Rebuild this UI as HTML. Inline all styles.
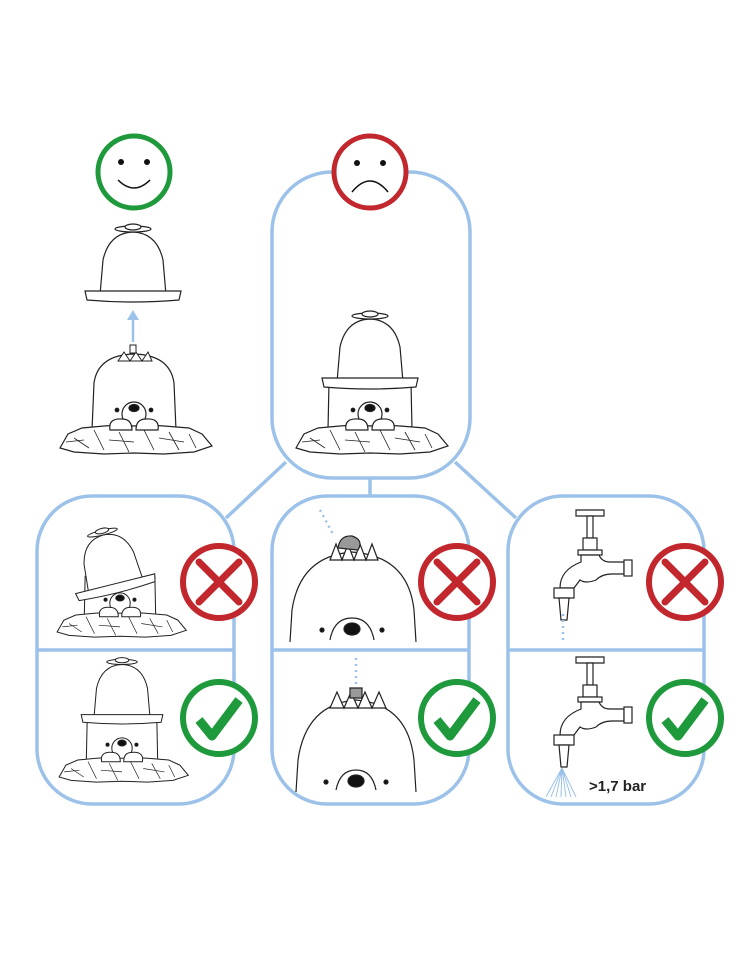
<!DOCTYPE html>
<html><head><meta charset="utf-8"><style>
html,body{margin:0;padding:0;background:#fff;width:743px;height:960px;overflow:hidden}
</style></head><body>
<svg width="743" height="960" viewBox="0 0 743 960" xmlns="http://www.w3.org/2000/svg">
<defs>
<g id="rocksface" fill="#fff" stroke="#222" stroke-width="1.2">
  <path d="M-74,20 L-66,6 L-52,0 L-30,-2 L0,-4 L30,-2 L55,0 L68,6 L78,18 L60,24 L30,26 L0,25 L-30,26 L-60,24 Z"/>
  <path d="M-60,10 L-45,20 M-40,2 L-30,22 M-15,4 L-5,24 M10,2 L20,22 M35,4 L45,22 M55,6 L62,20 M-68,14 L-50,12 M-25,12 L0,14 M25,10 L50,14" fill="none" stroke-width="0.8"/>
  <circle cx="0" cy="-14" r="12"/>
  <ellipse cx="0" cy="-20" rx="5" ry="3.5" fill="#111"/>
  <circle cx="-17" cy="-18" r="1.8" fill="#111"/>
  <circle cx="17" cy="-18" r="1.8" fill="#111"/>
  <path d="M-24,2 Q-26,-10 -12,-9 Q-2,-9 -2,2 Z"/>
  <path d="M2,2 Q2,-9 12,-9 Q26,-10 24,2 Z"/>
</g>
<g id="mole">
  <path d="M-42,2 L-40,-45 Q-36,-73 0,-74 Q36,-73 40,-45 L42,2 Z" fill="#fff" stroke="#222" stroke-width="1.2"/>
  <use href="#rocksface"/>
</g>
<g id="molelow">
  <path d="M-41,-46 L-42,2 L42,2 L41,-46" fill="#fff" stroke="#222" stroke-width="1.2"/>
  <use href="#rocksface"/>
</g>
<g id="cap" fill="#fff" stroke="#222" stroke-width="1.2">
  <path d="M-33,0 L-30,-35 Q-24,-62 0,-63 Q24,-62 30,-35 L33,0 Z"/>
  <path d="M-48,-4 L48,-4 L46,5 Q0,9 -46,5 Z"/>
  <ellipse cx="0" cy="-66" rx="18" ry="3"/>
  <ellipse cx="0" cy="-68" rx="8" ry="3"/>
</g>
<g id="tap" fill="#fff" stroke="#222" stroke-width="1.2">
  <path d="M-14,0 L14,0 L14,6 L-14,6 Z"/>
  <path d="M-3,6 L3,6 L3,28 L-3,28 Z"/>
  <rect x="-7" y="28" width="14" height="12"/>
  <rect x="-12" y="40" width="24" height="5"/>
  <path d="M-9,45 L9,45 Q12,52 20,52 L34,52 L34,64 L22,64 Q12,64 6,70 Q-4,74 -10,70 L-16,78 L-30,78 Q-30,60 -9,52 Z"/>
  <rect x="34" y="50" width="8" height="16"/>
  <rect x="-36" y="78" width="20" height="10"/>
  <path d="M-31,88 L-21,88 L-23,110 L-29,110 Z"/>
</g>
<g id="bad"><circle r="36" fill="#fff" stroke="#c1272d" stroke-width="6"/><path d="M-20,-20 L20,20 M20,-20 L-20,20" stroke="#c1272d" stroke-width="7" stroke-linecap="round"/></g>
<g id="good"><circle r="36" fill="#fff" stroke="#1e9a3c" stroke-width="6"/><path d="M-20,2 L-7,18 L20,-18" fill="none" stroke="#1e9a3c" stroke-width="9" stroke-linejoin="round"/></g>
</defs>

<g fill="none" stroke="#9cc2ea" stroke-width="3.5">
  <rect x="272" y="172" width="198" height="306" rx="60"/>
  <rect x="37" y="496" width="197" height="308" rx="55"/>
  <rect x="272" y="496" width="197" height="308" rx="55"/>
  <rect x="508" y="496" width="196" height="308" rx="55"/>
  <line x1="37" y1="650" x2="234" y2="650"/>
  <line x1="272" y1="650" x2="469" y2="650"/>
  <line x1="508" y1="650" x2="704" y2="650"/>
  <line x1="286" y1="462" x2="226" y2="518"/>
  <line x1="370" y1="478" x2="370" y2="496"/>
  <line x1="455" y1="462" x2="516" y2="518"/>
  <line x1="133" y1="342" x2="133" y2="316" stroke-width="2.5"/>
</g>
<path d="M127,320 L133,310 L139,320 Z" fill="#9cc2ea"/>

<circle cx="134" cy="172" r="36" fill="#fff" stroke="#1e9a3c" stroke-width="5"/>
<circle cx="121" cy="162" r="3" fill="#111"/><circle cx="147" cy="162" r="3" fill="#111"/>
<path d="M118,180 Q134,196 150,180" fill="none" stroke="#111" stroke-width="1.5"/>
<circle cx="370" cy="172" r="36" fill="#fff" stroke="#c1272d" stroke-width="5"/>
<circle cx="357" cy="163" r="3" fill="#111"/><circle cx="383" cy="163" r="3" fill="#111"/>
<path d="M352,192 Q370,170 388,192" fill="none" stroke="#111" stroke-width="1.5"/>

<use href="#cap" x="133" y="295"/>
<use href="#mole" x="134" y="428"/>
<path d="M118,361 L124,352 L130,361 L136,352 L142,361 L148,352 L152,361 Z" fill="#fff" stroke="#222"/>
<rect x="130" y="345" width="6" height="8" fill="#fff" stroke="#222"/>

<use href="#molelow" x="370" y="428"/>
<use href="#cap" x="370" y="382"/>

<g transform="translate(120,615) scale(0.85)"><use href="#molelow"/></g>
<g transform="translate(116,587) rotate(-14) scale(0.85)"><use href="#cap"/></g>
<g transform="translate(122,760) scale(0.85)"><use href="#molelow"/></g>
<g transform="translate(122,718) scale(0.85)"><use href="#cap"/></g>

<g fill="#fff" stroke="#222" stroke-width="1.2">
  <path d="M290,642 L292,610 Q300,556 352,552 Q408,556 414,610 L416,642"/>
  <path d="M330,560 L336,544 L342,560 L348,544 L354,560 L360,544 L366,560 L372,544 L378,560 Z"/>
  <path d="M338,548 Q340,535 352,536 Q364,540 358,550 Z" fill="#999"/>
  <path d="M330,640 Q334,618 352,618 Q370,618 374,640" fill="#fff"/>
  <ellipse cx="352" cy="629" rx="8" ry="6" fill="#111"/>
  <circle cx="322" cy="630" r="2" fill="#111"/><circle cx="382" cy="630" r="2" fill="#111"/>
  <path d="M296,792 L298,760 Q306,704 356,700 Q408,704 414,760 L416,792"/>
  <path d="M330,708 L337,692 L344,708 L351,692 L358,708 L365,692 L372,708 L379,692 L386,708 Z"/>
  <path d="M350,698 L350,688 L362,688 L362,698 Z" fill="#999"/>
  <path d="M336,790 Q340,770 356,770 Q372,770 376,790"/>
  <ellipse cx="356" cy="781" rx="8" ry="6" fill="#111"/>
  <circle cx="326" cy="782" r="2" fill="#111"/><circle cx="386" cy="782" r="2" fill="#111"/>
</g>
<path d="M320,510 L334,536" stroke="#9cc2ea" stroke-width="2.5" stroke-dasharray="2 4"/>
<path d="M356,658 L356,684" stroke="#9cc2ea" stroke-width="2.5" stroke-dasharray="2 4"/>

<use href="#tap" x="590" y="510"/>
<use href="#tap" x="590" y="657"/>
<path d="M563,614 L563,640" stroke="#9cc2ea" stroke-width="2.5" stroke-dasharray="2 4"/>
<g stroke="#9cc2ea" stroke-width="1">
  <path d="M562,768 L546,797 M562,768 L551,797 M562,768 L556,797 M562,768 L561,797 M562,768 L566,797 M562,768 L571,797 M562,768 L576,797"/>
</g>
<text x="589" y="791" font-family="'Liberation Sans',sans-serif" font-size="15" font-weight="bold" fill="#222">&gt;1,7 bar</text>

<use href="#bad" x="219" y="582"/>
<use href="#bad" x="457" y="582"/>
<use href="#bad" x="685" y="582"/>
<use href="#good" x="219" y="718"/>
<use href="#good" x="457" y="718"/>
<use href="#good" x="685" y="718"/>
</svg>
</body></html>
